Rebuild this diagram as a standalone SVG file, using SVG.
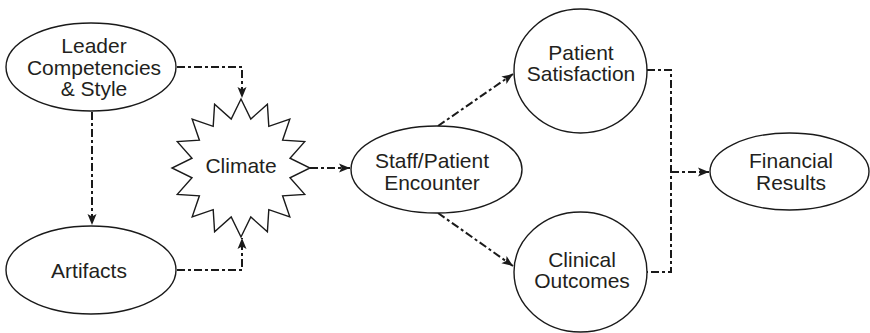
<svg xmlns="http://www.w3.org/2000/svg" width="870" height="333" viewBox="0 0 870 333">
  <style>
    .node { fill: #ffffff; stroke: #1a1a1a; stroke-width: 1.4; }
    .label { font-family: "Liberation Sans", Arial, sans-serif; font-size: 21px; fill: #231f20; text-anchor: middle; }
    .link { fill: none; stroke: #1a1a1a; stroke-width: 2; stroke-dasharray: 8 3 3 3; marker-end: url(#arrow); }
    .plain { fill: none; stroke: #1a1a1a; stroke-width: 2; stroke-dasharray: 8 3 3 3; }
  </style>
  <defs>
    <marker id="arrow" markerUnits="userSpaceOnUse" markerWidth="12" markerHeight="10" refX="11" refY="5" orient="auto">
      <path d="M0,0.5 L11,5 L0,9.5 L2.5,5 Z" fill="#1a1a1a"/>
    </marker>
  </defs>
  <rect width="870" height="333" fill="#ffffff"/>

  <g id="connectors">
    <path class="link" d="M177,67 H242 V98"/>
    <path class="link" d="M92,112 V225"/>
    <path class="link" d="M177,270 H242 V238"/>
    <path class="link" d="M310,168 H350"/>
    <path class="link" d="M438,126 L513,74"/>
    <path class="link" d="M438,213 L513,266"/>
    <path class="plain" d="M647,70 H671 V272 H647"/>
    <path class="link" d="M671,172 H709"/>
  </g>

  <g id="leader">
    <ellipse class="node" cx="91" cy="67" rx="85" ry="44"/>
    <text class="label" x="94" y="53">Leader</text>
    <text class="label" x="94" y="74.5">Competencies</text>
    <text class="label" x="94" y="96">&amp; Style</text>
  </g>

  <g id="artifacts">
    <ellipse class="node" cx="91" cy="270" rx="85" ry="44"/>
    <text class="label" x="89" y="278">Artifacts</text>
  </g>

  <g id="climate">
    <polygon class="node" points="241,99 250.8,119 267.4,104.3 268.8,126.4 289.8,119.2 282.6,140.2 304.7,141.6 290,158.2 310,168 290,177.8 304.7,194.4 282.6,195.8 289.8,216.8 268.8,209.6 267.4,231.7 250.8,217 241,237 231.2,217 214.6,231.7 213.2,209.6 192.2,216.8 199.4,195.8 177.3,194.4 192,177.8 172,168 192,158.2 177.3,141.6 199.4,140.2 192.2,119.2 213.2,126.4 214.6,104.3 231.2,119"/>
    <text class="label" x="241" y="173">Climate</text>
  </g>

  <g id="encounter">
    <ellipse class="node" cx="436.5" cy="169.5" rx="85.5" ry="43.5"/>
    <text class="label" x="432" y="168">Staff/Patient</text>
    <text class="label" x="432" y="190">Encounter</text>
  </g>

  <g id="satisfaction">
    <ellipse class="node" cx="580.5" cy="71" rx="66.5" ry="62"/>
    <text class="label" x="581" y="60">Patient</text>
    <text class="label" x="581" y="81">Satisfaction</text>
  </g>

  <g id="outcomes">
    <ellipse class="node" cx="580.5" cy="272" rx="66.5" ry="60"/>
    <text class="label" x="582" y="267">Clinical</text>
    <text class="label" x="582" y="288">Outcomes</text>
  </g>

  <g id="financial">
    <ellipse class="node" cx="789.5" cy="171.5" rx="79.5" ry="38.5"/>
    <text class="label" x="791" y="168">Financial</text>
    <text class="label" x="791" y="190">Results</text>
  </g>
</svg>
